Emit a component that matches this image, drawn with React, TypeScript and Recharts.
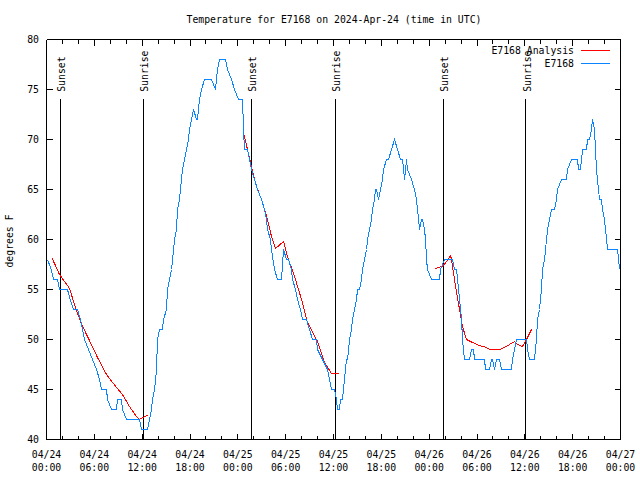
import React from 'react';
import { LineChart, Line, XAxis, YAxis, ReferenceLine, Legend } from 'recharts';

const FONT = '"DejaVu Sans Mono", "Liberation Mono", monospace';
const FS = 9.8;

// hours since 2024-04-24 00:00 UTC
const xTicks = [0, 2, 4, 6, 8, 10, 12, 14, 16, 18, 20, 22, 24, 26, 28, 30, 32, 34, 36, 38, 40, 42, 44, 46, 48, 50, 52, 54, 56, 58, 60, 62, 64, 66, 68, 70, 72];
const yTicks = [40, 45, 50, 55, 60, 65, 70, 75, 80];
const sunsets = [1.72, 25.68, 49.74];
const sunrises = [12.2, 36.2, 60.14];
const legendOrder = ['E7168 Analysis', 'E7168'];

// E7168 measured temperature [hour, degF]
const sensorSeries: [number, number][] = [
  [0.13, 58], [0.59, 57], [0.88, 56], [1.38, 56], [1.63, 55], [2.63, 55], [2.97, 54], [3.39, 53], [3.89, 53], [4.26, 52],
  [4.52, 51], [4.77, 50], [5.27, 49], [5.77, 48], [6.27, 47], [6.65, 46], [6.9, 45], [7.53, 45], [7.65, 44], [8.15, 43],
  [8.78, 43], [8.91, 44], [9.41, 44], [9.53, 43], [10.04, 42], [11.67, 42], [11.92, 41], [12.67, 41], [12.92, 42], [13.17, 43],
  [13.3, 44], [13.55, 45], [13.8, 47], [13.92, 50], [14.17, 51], [14.55, 51], [14.68, 52], [15.05, 53], [15.18, 55], [15.43, 56],
  [15.68, 57], [15.81, 58], [16.06, 60], [16.31, 61], [16.43, 63], [16.68, 64], [16.93, 66], [17.06, 67], [17.31, 68], [17.56, 69],
  [17.81, 70], [17.94, 71], [18.19, 72], [18.44, 73], [18.82, 72], [18.94, 72], [19.19, 74], [19.44, 75], [19.82, 76], [20.7, 76],
  [21.2, 75], [21.45, 77], [21.7, 78], [22.45, 78], [22.7, 77], [23.21, 76], [23.58, 75], [24.08, 74], [24.59, 74], [24.71, 71],
  [24.84, 69], [25.21, 69], [25.46, 68], [25.71, 67], [26.09, 66], [26.47, 65], [26.97, 64], [27.35, 63], [27.6, 62], [27.72, 61],
  [28.1, 60], [28.22, 59], [28.6, 57], [28.98, 56], [29.48, 56], [29.73, 59], [30.11, 58], [30.36, 58], [30.73, 57], [30.86, 56],
  [31.23, 55], [31.48, 54], [31.86, 53], [32.11, 52], [32.61, 52], [32.99, 51], [33.37, 50], [33.87, 50], [33.99, 49], [34.62, 48],
  [35.25, 47], [35.75, 45], [36.13, 45], [36.38, 44], [36.5, 43], [36.75, 43], [36.88, 44], [37.13, 44], [37.38, 46], [37.63, 48],
  [37.76, 48], [38.01, 50], [38.26, 51], [38.38, 52], [38.63, 53], [38.89, 54], [39.01, 55], [39.26, 55], [39.51, 56], [39.64, 57],
  [39.89, 58], [40.14, 59], [40.27, 60], [40.52, 61], [40.77, 62], [40.89, 63], [41.14, 64], [41.27, 65], [41.39, 65], [41.64, 64],
  [41.9, 65], [42.15, 66], [42.27, 67], [42.65, 68], [42.9, 68], [43.28, 69], [43.65, 70], [44.03, 69], [44.41, 68], [44.66, 68],
  [44.91, 66], [45.16, 68], [45.28, 67], [45.78, 66], [46.16, 65], [46.41, 64], [46.54, 63], [46.79, 61], [47.04, 62], [47.17, 62],
  [47.42, 61], [47.54, 60], [47.67, 58], [47.79, 57], [48.29, 56], [49.3, 56], [49.42, 57], [49.92, 58], [50.93, 58], [51.18, 57],
  [51.43, 57], [51.56, 56], [51.81, 54], [52.06, 52], [52.18, 50], [52.43, 48], [53.06, 48], [53.31, 49], [53.56, 49], [53.69, 48],
  [54.94, 48], [55.07, 47], [55.57, 47], [55.82, 48], [55.95, 48], [56.2, 47], [56.45, 48], [56.82, 48], [57.07, 47], [58.33, 47],
  [58.45, 48], [58.71, 49], [58.96, 50], [60.21, 50], [60.34, 49], [60.59, 48], [61.21, 48], [61.46, 50], [61.59, 52], [61.84, 53],
  [62.09, 55], [62.22, 57], [62.47, 58], [62.72, 60], [62.85, 61], [63.1, 62], [63.35, 63], [63.72, 63], [63.97, 64], [64.1, 65],
  [64.6, 66], [65.23, 66], [65.35, 67], [65.86, 68], [66.61, 68], [66.73, 67], [66.98, 67], [67.24, 69], [67.74, 69], [67.86, 70],
  [68.11, 70], [68.36, 71], [68.49, 72], [68.74, 71], [68.99, 67], [69.11, 66], [69.37, 64], [69.62, 64], [69.74, 63], [69.99, 62],
  [70.25, 60], [70.37, 59], [71.63, 59], [71.75, 58], [71.88, 57],
];

// E7168 Analysis, three separate night segments [hour, degF]
const analysisNight1: [number, number][] = [
  [0.72, 58.1], [1.63, 56.5], [2.63, 55.4], [2.89, 55.1], [3.51, 53.5], [4.35, 51.6], [5.39, 49.9], [6.4, 48.2], [7.53, 46.5],
  [8.28, 45.7], [9.53, 44.5], [10.41, 43.3], [11.29, 42.3], [11.67, 42.0], [12.04, 42.2], [12.67, 42.4],
];
const analysisNight2: [number, number][] = [
  [24.71, 70.7], [25.71, 67.3], [26.34, 65.3], [26.97, 64.0], [27.72, 62.0], [28.22, 60.3], [28.73, 59.1], [29.73, 59.8],
  [30.23, 58.3], [31.11, 56.3], [31.99, 54.0], [32.74, 51.7], [33.99, 49.8], [34.87, 47.7], [35.75, 46.6], [36.63, 46.6],
];
const analysisNight3: [number, number][] = [
  [48.67, 57.0], [49.05, 57.2], [49.67, 57.3], [50.18, 57.8], [50.68, 58.4], [50.8, 58.0], [51.18, 56.0], [51.43, 54.7],
  [51.81, 53.0], [52.18, 51.3], [52.68, 50.0], [53.44, 49.7], [54.31, 49.4], [55.19, 49.2], [55.57, 49.0], [56.82, 49.0],
  [57.45, 49.2], [58.08, 49.5], [58.71, 49.8], [59.08, 49.5], [59.71, 49.3], [60.21, 50.0], [60.84, 51.0],
];

const sensorData = sensorSeries.map(([h, t]) => ({ h, t }));
const analysisSegments = [analysisNight1, analysisNight2, analysisNight3];
const analysisData: { h: number; t: number | null }[] = [];
analysisSegments.forEach((seg, i) => {
  seg.forEach(([h, t]) => analysisData.push({ h, t }));
  if (i < analysisSegments.length - 1) analysisData.push({ h: seg[seg.length - 1][0] + 0.05, t: null });
});

const pad = (n: number) => (n < 10 ? '0' + n : '' + n);
const dateLabel = (h: number) => '04/' + pad(24 + Math.floor(h / 24));
const timeLabel = (h: number) => pad(h % 24) + ':00';

const textStyle = { fontFamily: FONT, fontSize: FS, fill: '#000' } as const;

const BottomTick = (props: any) => {
  const { x, y, payload } = props;
  const v = payload.value as number;
  const major = v % 6 === 0;
  return (
    <g>
      <line x1={x} x2={x} y1={y} y2={y - (major ? 6 : 4)} stroke="#000" shapeRendering="crispEdges" />
      {major && (
        <text textAnchor="middle" {...textStyle}>
          <tspan x={x} y={y + 18.5}>{dateLabel(v)}</tspan>
          <tspan x={x} y={y + 31.5}>{timeLabel(v)}</tspan>
        </text>
      )}
    </g>
  );
};

const TopTick = (props: any) => {
  const { x, y, payload } = props;
  const major = (payload.value as number) % 6 === 0;
  return <line x1={x} x2={x} y1={y} y2={y + (major ? 6 : 4)} stroke="#000" shapeRendering="crispEdges" />;
};

const LeftTick = (props: any) => {
  const { x, y, payload } = props;
  return (
    <g>
      <line x1={x} x2={x + 6} y1={y} y2={y} stroke="#000" shapeRendering="crispEdges" />
      <text x={x - 7.5} y={y + 3.6} textAnchor="end" {...textStyle}>{payload.value}</text>
    </g>
  );
};

const RightTick = (props: any) => {
  const { x, y } = props;
  return <line x1={x} x2={x - 6} y1={y} y2={y} stroke="#000" shapeRendering="crispEdges" />;
};

const SunLabel = (props: any) => {
  const { viewBox, text } = props;
  const x = viewBox.x + 4.6;
  const y = viewBox.y - 7;
  return (
    <text x={x} y={y} transform={`rotate(-90 ${x} ${y})`} textAnchor="start" {...textStyle}>{text}</text>
  );
};

const LegendBox = (props: any) => {
  const payload = ((props.payload || []) as any[]).slice().sort(
    (a, b) => legendOrder.indexOf(a.value) - legendOrder.indexOf(b.value)
  );
  return (
    <div style={{ fontFamily: FONT, fontSize: FS, color: '#000' }}>
      {payload.map((p) => (
        <div key={p.value} style={{ display: 'flex', justifyContent: 'flex-end', alignItems: 'center', height: 13, lineHeight: '13px' }}>
          <span style={{ whiteSpace: 'nowrap' }}>{p.value}</span>
          <span style={{ display: 'inline-block', width: 29, height: 1, background: p.color, marginLeft: 7 }} />
        </div>
      ))}
    </div>
  );
};

const axisLine = { stroke: '#000', shapeRendering: 'crispEdges' } as any;

export default function App() {
  return (
    <div style={{ position: 'absolute', left: 0, top: 0, width: 640, height: 480, background: '#fff' }}>
      <style>{`.recharts-line-curve { shape-rendering: crispEdges; } .recharts-reference-line-line { shape-rendering: crispEdges; }`}</style>
      <div style={{ position: 'absolute', left: 0, width: 668, top: 13.6, textAlign: 'center', fontFamily: FONT, fontSize: FS, lineHeight: '12px', whiteSpace: 'nowrap', zIndex: 2 }}>
        Temperature for E7168 on 2024-Apr-24 (time in UTC)
      </div>
      <div style={{ position: 'absolute', left: 10, top: 240.5, transform: 'translate(-50%, -50%) rotate(-90deg)', fontFamily: FONT, fontSize: FS, lineHeight: '12px', whiteSpace: 'nowrap', zIndex: 2 }}>
        degrees F
      </div>
      <LineChart width={640} height={480} margin={{ top: 38.5, right: 18.5, bottom: 39.5, left: 45.5 }}>
        <XAxis type="number" dataKey="h" domain={[0, 72]} ticks={xTicks} interval={0} allowDataOverflow height={1}
          tickSize={0} tickMargin={0} tickLine={false} tick={BottomTick} axisLine={axisLine} />
        <XAxis xAxisId="top" orientation="top" type="number" dataKey="h" domain={[0, 72]} ticks={xTicks} interval={0} allowDataOverflow height={1}
          tickSize={0} tickMargin={0} tickLine={false} tick={TopTick} axisLine={axisLine} />
        <YAxis type="number" domain={[40, 80]} ticks={yTicks} interval={0} allowDataOverflow width={1}
          tickSize={0} tickMargin={0} tickLine={false} tick={LeftTick} axisLine={axisLine} />
        <YAxis yAxisId="right" orientation="right" type="number" domain={[40, 80]} ticks={yTicks} interval={0} allowDataOverflow width={1}
          tickSize={0} tickMargin={0} tickLine={false} tick={RightTick} axisLine={axisLine} />
        {sunsets.map((h) => (
          <ReferenceLine key={'ss' + h} segment={[{ x: h, y: 74.07 }, { x: h, y: 40 }]} stroke="#000" strokeWidth={1}
            label={(p: any) => <SunLabel {...p} text="Sunset" />} />
        ))}
        {sunrises.map((h) => (
          <ReferenceLine key={'sr' + h} segment={[{ x: h, y: 74.07 }, { x: h, y: 40 }]} stroke="#000" strokeWidth={1}
            label={(p: any) => <SunLabel {...p} text="Sunrise" />} />
        ))}
        <Line data={analysisData} dataKey="t" name="E7168 Analysis" type="linear" stroke="#ff0000" strokeWidth={1}
          dot={false} activeDot={false} connectNulls={false} isAnimationActive={false} />
        <Line data={sensorData} dataKey="t" name="E7168" type="linear" stroke="#0a84ff" strokeWidth={1}
          dot={false} activeDot={false} isAnimationActive={false} />
        <Legend layout="vertical" align="center" verticalAlign="middle" content={LegendBox}
          wrapperStyle={{ top: 43.5, left: 430, width: 180, height: 26 }} />
      </LineChart>
    </div>
  );
}
